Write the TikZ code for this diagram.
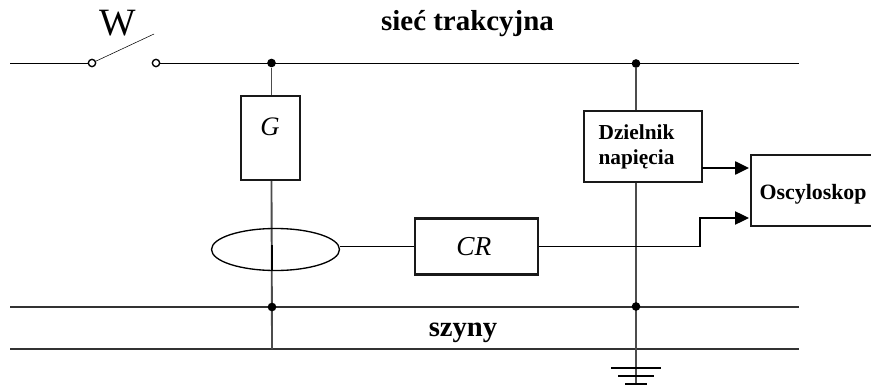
\documentclass[tikz,border=0pt]{standalone}
\usepackage{fontspec}
\setmainfont{Liberation Serif}
\usetikzlibrary{shapes.geometric,arrows.meta,backgrounds}
\begin{document}
\begin{tikzpicture}[x=.75pt,y=-.75pt,line width=.9pt,
    boxB/.style={draw, line width=1.6pt, black!90, text=black, inner sep=0},
    wireB/.style={draw, line width=1.4pt, black!70},
    railB/.style={draw, line width=1.1pt, black!80},
    dotB/.style={circle, fill, inner sep=0, minimum size=6.5pt},
    termB/.style={circle, draw, fill=white, line width=1pt, inner sep=0, minimum size=5.5pt},
    arrowB/.style={-{Triangle[length=10.5pt,width=10pt]}}]

      \useasboundingbox (0, 0) rectangle (871, 385);

      % szyny i siec
      \coordinate (netL) at (10, 63);
      \coordinate (netR) at (799, 63);
      \coordinate (railAL) at (10, 307);
      \coordinate (railAR) at (799, 307);
      \coordinate (railBL) at (10, 349);
      \coordinate (railBR) at (799, 349);
      \coordinate (railGEnd) at (272, 349);
      \coordinate (gndEnd) at (636, 385);
      \coordinate (bladeEnd) at (154, 34);
      \coordinate (bendA) at (700, 246.5);
      \coordinate (bendB) at (700, 218);
      \coordinate (inA) at (749, 168);
      \coordinate (inB) at (749, 218);
      \coordinate (outA) at (702, 168);
      \coordinate (coreT) at (272, 245);
      \coordinate (coreB) at (272, 271);
      \node[termB] (swL) at (92, 63) {};
      \node[termB] (swR) at (156, 63) {};
      \node[dotB] (dotG) at (271.5, 63) {};
      \node[dotB] (dotD) at (636, 63.5) {};
      \node[dotB] (dotGB) at (272, 307) {};
      \node[dotB] (dotDB) at (636, 306.5) {};

      \node[boxB, minimum width=44.5pt, minimum height=63pt] (G) at (270.5, 138) {};
      \node[font=\itshape\fontsize{20}{20}\selectfont] (Gtxt) at (270, 127) {G};
      \node[boxB, minimum width=92.5pt, minimum height=42pt, font=\itshape\fontsize{20.5}{20.5}\selectfont] (CR) at (476.5, 246.5) {\hspace*{-4pt}CR};
      \node[boxB, minimum width=88.5pt, minimum height=53pt] (DZ) at (643, 146.5) {};
      \node[font=\bfseries\fontsize{16}{18.8}\selectfont, align=left, anchor=west, inner sep=0] (DZtxt) at (598, 146.5) {Dzielnik\\napięcia};
      \node[boxB, minimum width=93pt, minimum height=53pt] (OSC) at (813, 190.5) {};
      \node[font=\bfseries\fontsize{16.4}{16.4}\selectfont, anchor=west, inner sep=0] (OSCtxt) at (759, 194) {Oscyloskop};
      \node[draw, ellipse, line width=1pt, minimum width=96pt, minimum height=31.5pt, inner sep=0] (CT) at (275.5, 249.5) {};

      \node[font=\fontsize{29}{29}\selectfont] (W) at (117.5, 23) {W};
      \node[font=\bfseries\fontsize{21.7}{21.7}\selectfont] (net) at (467.5, 24) {sieć trakcyjna};
      \node[font=\bfseries\fontsize{21.5}{21.5}\selectfont] (rail) at (463, 333) {szyny};

      \begin{scope}[on background layer]
      \draw (netL) -- (swL);
      \draw (swL) -- (bladeEnd);
      \draw (swR) -- (netR);
      \draw[railB] (railAL) -- (railAR);
      \draw[railB] (railBL) -- (railBR);
      \draw[wireB] (dotG) -- (dotG |- G.north);
      \draw[wireB] (dotG |- G.south) -- (railGEnd);
      \draw[wireB] (dotD) -- (dotD |- DZ.north);
      \draw[wireB] (dotD |- DZ.south) -- (gndEnd);
      \draw[line width=1.2pt] (coreT) -- (coreB);
      \end{scope}

      \draw (CR.west -| CT.east) -- (CR.west);
      \draw[arrowB] (CR.east) -- (bendA) -- (bendB) -- (inB);
      \draw[arrowB, line width=1.1pt] (outA) -- (inA);

      % uziemienie
      \foreach \gy/\gw/\gt in {368/25/1.1, 376/18/1.1, 384/11/2}
        \draw[line width=\gt pt] (636-\gw, \gy) -- (636+\gw, \gy);
    \end{tikzpicture}
\end{document}
